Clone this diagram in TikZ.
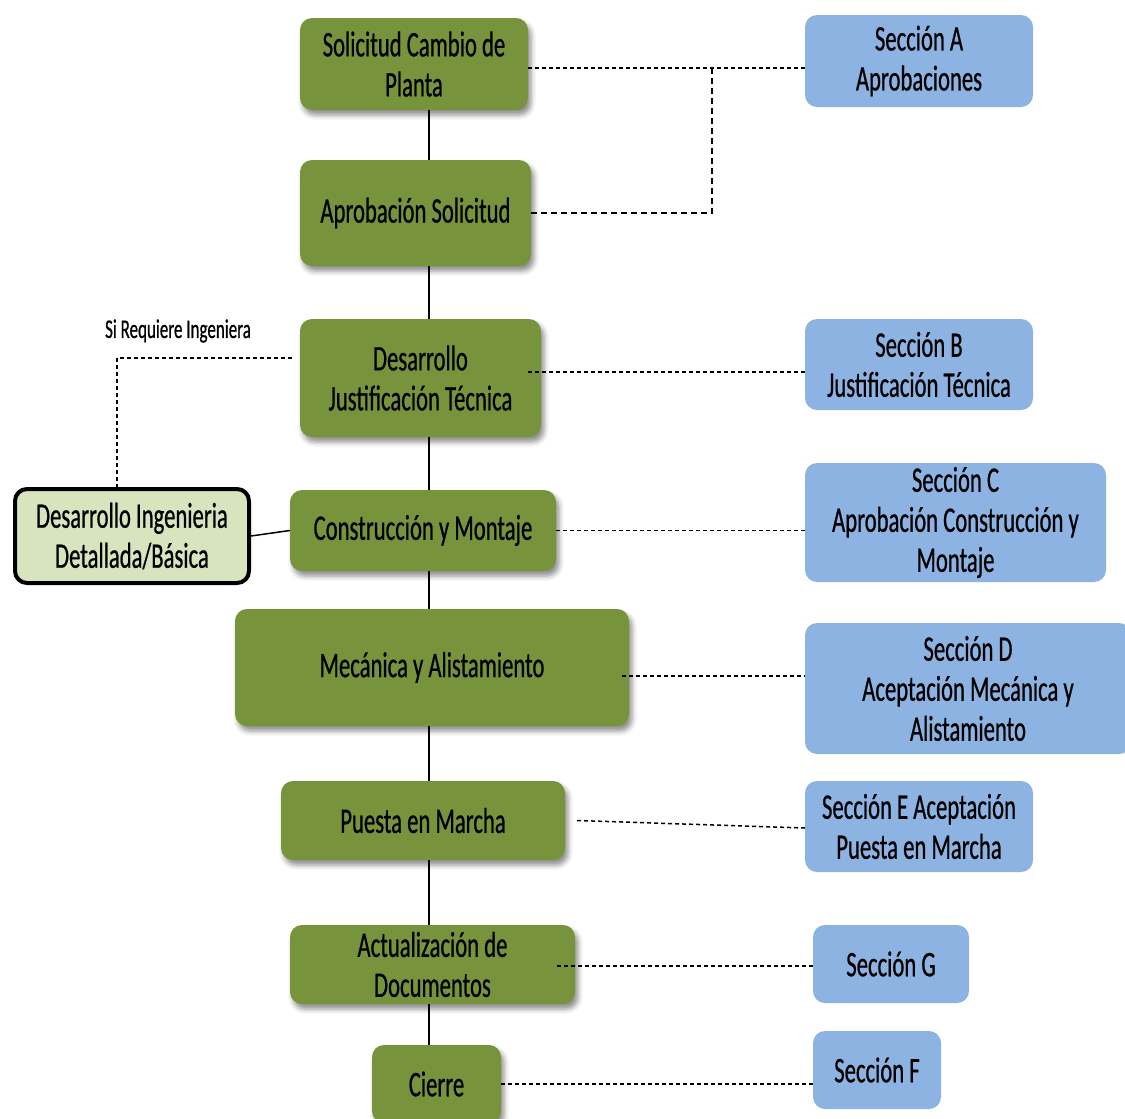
\documentclass[tikz,border=0pt]{standalone}
\usepackage{fontspec}
\setmainfont{Carlito}[FakeStretch=0.63,FakeBold=0.6]
\usetikzlibrary{shadows.blur}
\definecolor{gfill}{HTML}{77933C}
\definecolor{bfill}{HTML}{8DB3E2}
\definecolor{lgfill}{HTML}{D7E4BD}
\tikzset{
  gbox/.style={rectangle, rounded corners=12pt, fill=gfill, align=center,
    font=\fontsize{36}{40}\selectfont, inner sep=0pt,
    blur shadow={shadow xshift=3pt, shadow yshift=-5pt, shadow blur radius=5pt, shadow opacity=45}},
  bbox/.style={rectangle, rounded corners=12pt, fill=bfill, align=center,
    font=\fontsize{36}{40}\selectfont, inner sep=0pt},
  link/.style={line width=1.5pt},
  dlink/.style={line width=1.5pt, dash pattern=on 4pt off 3pt},
  dlinkv/.style={line width=1.5pt, dash pattern=on 6pt off 4pt},
}
\begin{document}
\begin{tikzpicture}[x=1pt,y=-1pt]
\useasboundingbox (0,0) rectangle (1125,1119);
\clip (0,0) rectangle (1125,1119);
\coordinate (spine) at (429,0);
% green process boxes
\node[gbox, minimum width=228pt, minimum height=92pt] (g1) at (414,64) {Solicitud Cambio de\\Planta};
\node[gbox, minimum width=231pt, minimum height=106pt] (g2) at (415.5,213) {Aprobación Solicitud};
\node[gbox, minimum width=241pt, minimum height=118pt] (g3) at (420.5,378) {Desarrollo\\Justificación Técnica};
\node[gbox, minimum width=266pt, minimum height=81pt] (g4) at (423,530.5) {Construcción y Montaje};
\node[gbox, minimum width=394pt, minimum height=117pt] (g5) at (432,667.5) {Mecánica y Alistamiento};
\node[gbox, minimum width=284pt, minimum height=79pt] (g6) at (423,820.5) {Puesta en Marcha};
\node[gbox, minimum width=285pt, minimum height=79pt] (g7) at (432.5,964.5) {Actualización de\\Documentos};
\node[gbox, minimum width=129pt, minimum height=78pt] (g8) at (436.5,1084) {Cierre};
% blue section boxes
\node[bbox, minimum width=228pt, minimum height=92pt] (bA) at (919,61) {Sección A\\Aprobaciones};
\node[bbox, minimum width=228pt, minimum height=91pt] (bB) at (919,364.5) {Sección B\\Justificación Técnica};
\node[bbox, minimum width=301pt, minimum height=119pt] (bC) at (955.5,522.5) {Sección C\\Aprobación Construcción y\\Montaje};
\node[bbox, minimum width=326pt, minimum height=131pt] (bD) at (968,688.5) {Sección D\\Aceptación Mecánica y\\Alistamiento};
\node[bbox, minimum width=228pt, minimum height=91pt] (bE) at (919,826.5) {Sección E Aceptación\\Puesta en Marcha};
\node[bbox, minimum width=156pt, minimum height=78pt] (bG) at (891,964) {Sección G};
\node[bbox, minimum width=128pt, minimum height=78pt] (bF) at (877,1070) {Sección F};
% engineering box and label
\node[rectangle, rounded corners=12pt, draw=black, line width=4pt, fill=lgfill, align=center,
  font=\fontsize{36}{40}\selectfont, inner sep=0pt, minimum width=234pt, minimum height=94pt] (ing) at (132,536) {Desarrollo Ingenieria\\Detallada/Básica};
\node[font=\fontsize{27}{30}\selectfont, inner sep=0pt] (lbl) at (178,331) {Si Requiere Ingeniera};
% main spine
\draw[link] (g1.south -| spine) -- (g2.north -| spine);
\draw[link] (g2.south -| spine) -- (g3.north -| spine);
\draw[link] (g3.south -| spine) -- (g4.north -| spine);
\draw[link] (g4.south -| spine) -- (g5.north -| spine);
\draw[link] (g5.south -| spine) -- (g6.north -| spine);
\draw[link] (g6.south -| spine) -- (g7.north -| spine);
\draw[link] (g7.south -| spine) -- (g8.north -| spine);
% dashed links to sections
\coordinate (jA) at (712,68);
\draw[dlink] ([yshift=-4pt]g1.east) -- ([yshift=-4pt]g1.east -| bA.west);
\draw[dlinkv] (g2.east) -| (jA);
\draw[dlink] ([xshift=-13pt,yshift=6pt]g3.east) -- ([yshift=6pt]g3.east -| bB.west);
\draw[dlink] (g4.east) -- (g4.east -| bC.west);
\draw[dlink] ([xshift=-7pt,yshift=-8.5pt]g5.east) -- ([yshift=-8.5pt]g5.east -| bD.west);
\draw[dlink] ([xshift=12pt]g6.east) -- ([yshift=-1.5pt]bE.west);
\draw[dlink] ([xshift=-18pt,yshift=-1.5pt]g7.east) -- ([yshift=-1.5pt]g7.east -| bG.west);
\draw[dlink] (g8.east) -- (g8.east -| bF.west);
% engineering branch
\draw[dlink] ([xshift=-8pt,yshift=20pt]g3.west) -| ([xshift=-15pt]ing.north);
\draw[link] (ing.east) -- (g4.west);
\end{tikzpicture}
\end{document}
